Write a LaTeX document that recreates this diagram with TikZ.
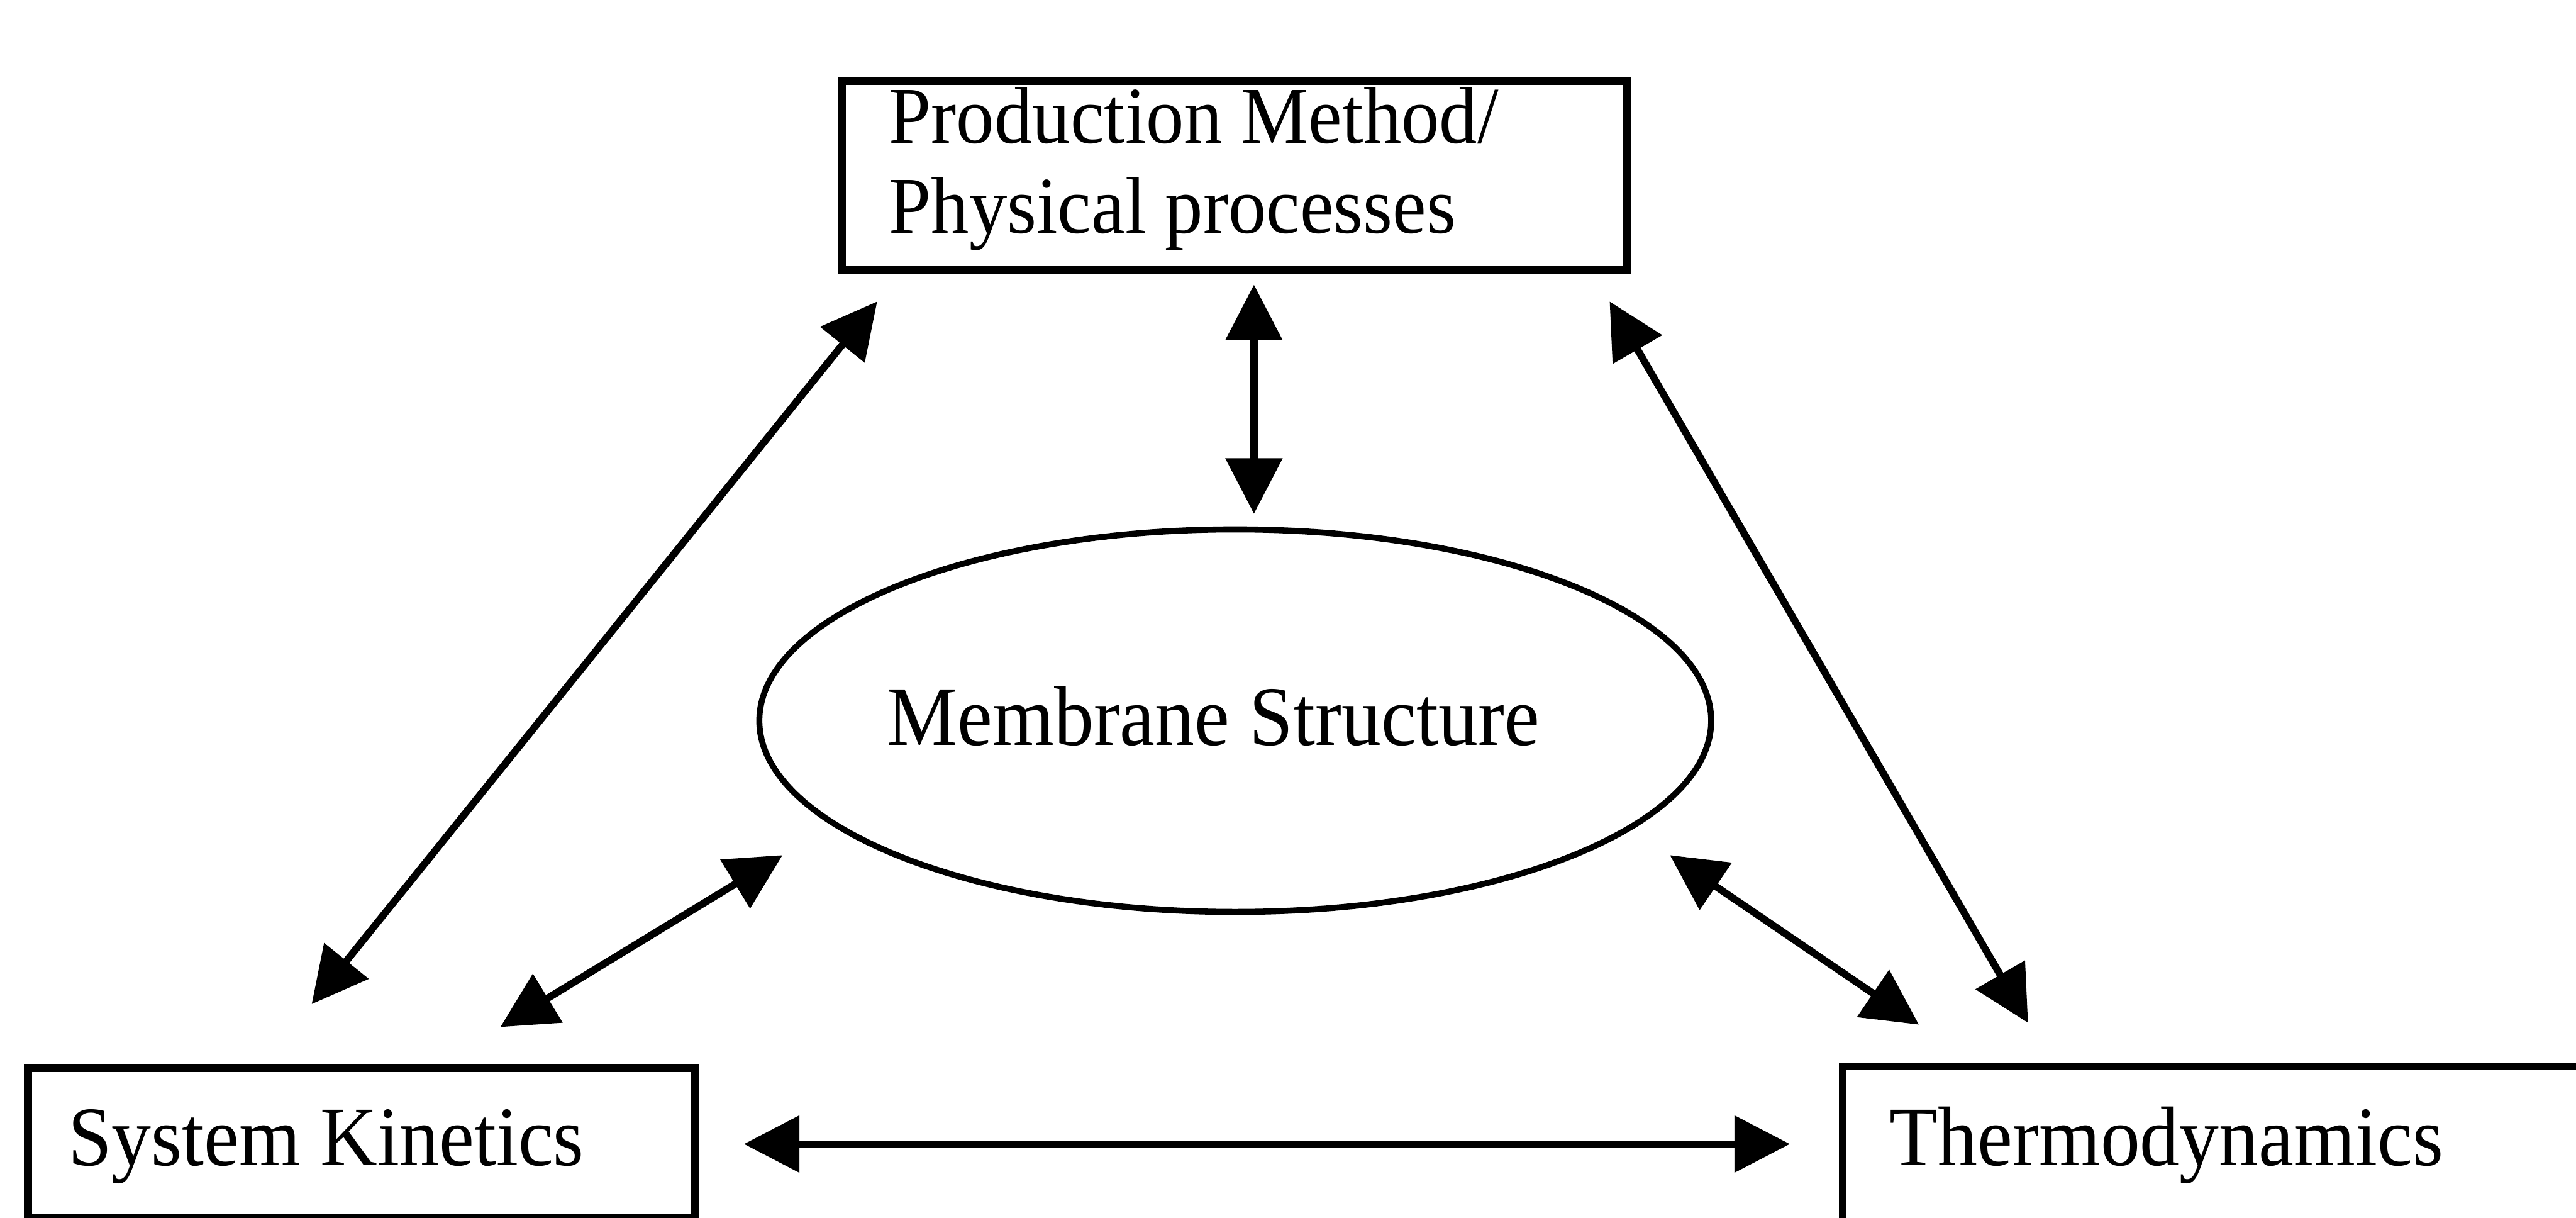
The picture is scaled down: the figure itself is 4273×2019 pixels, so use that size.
\documentclass[tikz,border=0pt]{standalone}
\usepackage{fontspec}
\setmainfont{Liberation Serif}
\usetikzlibrary{arrows.meta,shapes.geometric}
\begin{document}
\begin{tikzpicture}[x=0.01cm,y=-0.01cm,
  boxline/.style={draw=black,line width=0.13cm,rectangle,inner sep=0pt},
  lbl/.style={inner sep=0pt,anchor=base west,font=\fontsize{37.3pt}{43pt}\selectfont},
  conn/.style={line width=0.12cm,{Triangle[length=0.92cm,width=0.92cm]}-{Triangle[length=0.92cm,width=0.92cm]}}
]
\path[use as bounding box,clip] (0,0) rectangle (4273,2019);
\fill[white] (0,0) rectangle (4273,2019);
% boxes
\node[boxline,anchor=north west,minimum width=13.02cm,minimum height=3.13cm] (prod) at (1390,128) {};
\node[boxline,anchor=north west,minimum width=11.05cm,minimum height=2.48cm] (kin) at (40,1765) {};
\node[boxline,anchor=north west,minimum width=15cm,minimum height=5cm] (thermo) at (3050,1762) {};
\node[draw=black,line width=0.1cm,ellipse,inner sep=0pt,minimum width=15.78cm,minimum height=6.34cm] (mem) at (2049,1195) {};
% texts
\node[lbl] (prodA) at (1474,237) {\scalebox{0.96}[1.02]{Production Method/}};
\node[lbl] (prodB) at (1474,387) {\scalebox{0.96}[1.02]{Physical processes}};
\node[lbl] (memT) at (1471,1236) {\scalebox{1}[1.07]{Membrane Structure}};
\node[lbl] (kinT) at (112,1933) {\scalebox{1}[1.07]{System Kinetics}};
\node[lbl] (thermoT) at (3134,1933) {\scalebox{1}[1.07]{Thermodynamics}};
% connector end points
\coordinate (p1) at (1455,500);  \coordinate (k1) at (517,1665);
\coordinate (p2) at (2080,472);  \coordinate (m2) at (2080,852);
\coordinate (p3) at (2670,500);  \coordinate (t3) at (3364,1696);
\coordinate (m4) at (1298,1418); \coordinate (k4) at (830,1703);
\coordinate (m5) at (2770,1418); \coordinate (t5) at (3183,1699);
\coordinate (k6) at (1234,1897); \coordinate (t6) at (2969,1897);
\draw[conn] (p1) -- (k1);
\draw[conn] (p2) -- (m2);
\draw[conn] (p3) -- (t3);
\draw[conn] (m4) -- (k4);
\draw[conn] (m5) -- (t5);
\draw[conn] (k6) -- (t6);
\end{tikzpicture}
\end{document}
